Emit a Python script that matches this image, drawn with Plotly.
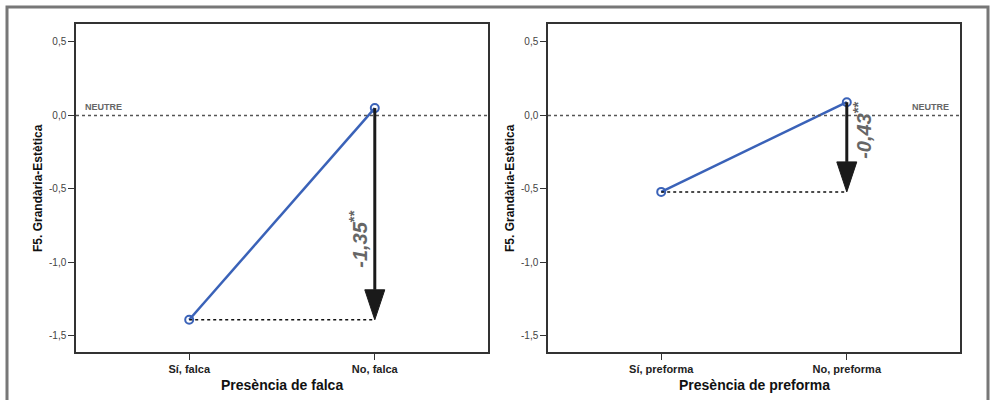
import plotly.graph_objects as go

# ---- data ----
cats_falca = ["Sí, falca", "No, falca"]
vals_falca = [-1.39, 0.05]
label_falca = "-1,35"

cats_pref = ["Sí, preforma", "No, preforma"]
vals_pref = [-0.52, 0.09]
label_pref = "-0,43"

ytick_vals = [0.5, 0.0, -0.5, -1.0, -1.5]
ytick_text = ["0,5", "0,0", "-0,5", "-1,0", "-1,5"]
y_title = "F5. Grandària-Estètica"
x_titles = ["Presència de falca", "Presència de preforma"]
neutral_label = "NEUTRE"

W, H = 990, 400
BLUE = "#3a62b8"
FONT = "Liberation Sans, Arial, sans-serif"

fig = go.Figure()

panels = [
    dict(cats=cats_falca, vals=vals_falca, lab=label_falca, xa="x", ya="y",
         dom=[76 / W, 488 / W], xt=x_titles[0], side="left"),
    dict(cats=cats_pref, vals=vals_pref, lab=label_pref, xa="x2", ya="y2",
         dom=[548 / W, 960 / W], xt=x_titles[1], side="right"),
]
ydom = [1 - 352 / H, 1 - 24 / H]
yrange = [-1.609, 0.622]
xrange = [-0.61, 1.61]
px_per_y = (352 - 24) / (yrange[1] - yrange[0])
px_per_x = 412 / (xrange[1] - xrange[0])

shapes = []
annotations = []
for i, p in enumerate(panels):
    xs = list(range(len(p["cats"])))
    fig.add_trace(go.Scatter(
        x=xs, y=p["vals"], mode="lines+markers", xaxis=p["xa"], yaxis=p["ya"],
        line=dict(color=BLUE, width=2.5),
        marker=dict(symbol="circle-open", size=8, color=BLUE, line=dict(width=2)),
        showlegend=False, hoverinfo="skip"))

    axn = "" if i == 0 else "2"
    fig.update_layout(**{
        f"xaxis{axn}": dict(domain=p["dom"], range=xrange, tickvals=xs, ticktext=p["cats"],
                            showline=True, mirror=True, linecolor="#333", linewidth=1.5,
                            ticks="outside", ticklen=6, tickcolor="#333", showgrid=False,
                            zeroline=False, anchor=p["ya"],
                            tickfont=dict(family=FONT, size=11, color="#222", weight="bold")),
        f"yaxis{axn}": dict(domain=ydom, range=yrange, tickvals=ytick_vals, ticktext=ytick_text,
                            showline=True, mirror=True, linecolor="#333", linewidth=1.5,
                            ticks="outside", ticklen=6, tickcolor="#333", showgrid=False,
                            zeroline=False, anchor=p["xa"],
                            tickfont=dict(family=FONT, size=10, color="#444")),
    })

    lo, hi = min(p["vals"]), max(p["vals"])
    xi_lo = p["vals"].index(lo)
    xi_hi = p["vals"].index(hi)
    dom_ref = f"{p['xa']} domain"

    # neutral line
    shapes.append(dict(type="line", xref=dom_ref, yref=p["ya"], x0=0, x1=1, y0=0, y1=0,
                       line=dict(color="#555", width=1.5, dash="dot")))
    # horizontal dotted reference at low value
    shapes.append(dict(type="line", xref=p["xa"], yref=p["ya"], x0=xi_lo, x1=xi_hi, y0=lo, y1=lo,
                       line=dict(color="#111", width=1.5, dash="dot")))
    # arrow shaft
    head_h = 30 / px_per_y
    head_w = 10 / px_per_x
    shapes.append(dict(type="line", xref=p["xa"], yref=p["ya"], x0=xi_hi, x1=xi_hi,
                       y0=hi, y1=lo + head_h, line=dict(color="#1a1a1a", width=3)))
    path = (f"M {xi_hi - head_w},{lo + head_h} L {xi_hi + head_w},{lo + head_h} "
            f"L {xi_hi},{lo} Z")
    shapes.append(dict(type="path", xref=p["xa"], yref=p["ya"], path=path,
                       fillcolor="#1a1a1a", line=dict(color="#1a1a1a", width=1)))

    mid = (hi + lo) / 2
    lab_text = f"<i>{p['lab']}</i><sup><span style='font-size:15px'>**</span></sup>"
    if p["side"] == "left":
        annotations.append(dict(x=xi_hi, y=mid, xref=p["xa"], yref=p["ya"], xshift=-17, yshift=-25,
                                text=lab_text, textangle=-90, showarrow=False,
                                font=dict(family=FONT, size=20, color="#666", weight="bold")))
        annotations.append(dict(x=0.017, y=0, xref=dom_ref, yref=p["ya"], xanchor="left",
                                yanchor="bottom", yshift=1, text=neutral_label, showarrow=False,
                                font=dict(family=FONT, size=9, color="#666", weight="bold")))
    else:
        annotations.append(dict(x=xi_hi, y=mid, xref=p["xa"], yref=p["ya"], xshift=15, yshift=17,
                                text=lab_text, textangle=-90, showarrow=False,
                                font=dict(family=FONT, size=20, color="#666", weight="bold")))
        annotations.append(dict(x=0.978, y=0, xref=dom_ref, yref=p["ya"], xanchor="right",
                                yanchor="bottom", yshift=1, text=neutral_label, showarrow=False,
                                font=dict(family=FONT, size=9, color="#666", weight="bold")))

    # axis titles
    cx = (p["dom"][0] + p["dom"][1]) / 2
    annotations.append(dict(x=cx, y=1 - 385 / H, xref="paper", yref="paper", text=p["xt"],
                            showarrow=False, xanchor="center", yanchor="middle",
                            font=dict(family=FONT, size=14, color="#111", weight="bold")))
    annotations.append(dict(x=p["dom"][0] - 38 / W, y=(ydom[0] + ydom[1]) / 2, xref="paper", yref="paper",
                            text=y_title, textangle=-90, showarrow=False, xanchor="center",
                            yanchor="middle",
                            font=dict(family=FONT, size=12, color="#111", weight="bold")))

# outer frame
shapes.append(dict(type="rect", xref="paper", yref="paper", x0=7 / W, x1=988 / W,
                   y0=-0.05, y1=1 - 7 / H, line=dict(color="#777", width=3)))

fig.update_layout(width=W, height=H, margin=dict(l=0, r=0, t=0, b=0),
                  paper_bgcolor="white", plot_bgcolor="white",
                  shapes=shapes, annotations=annotations, showlegend=False)

fig.write_html("out.html", config={"displayModeBar": False},
               post_script="document.body.style.margin='0';")
